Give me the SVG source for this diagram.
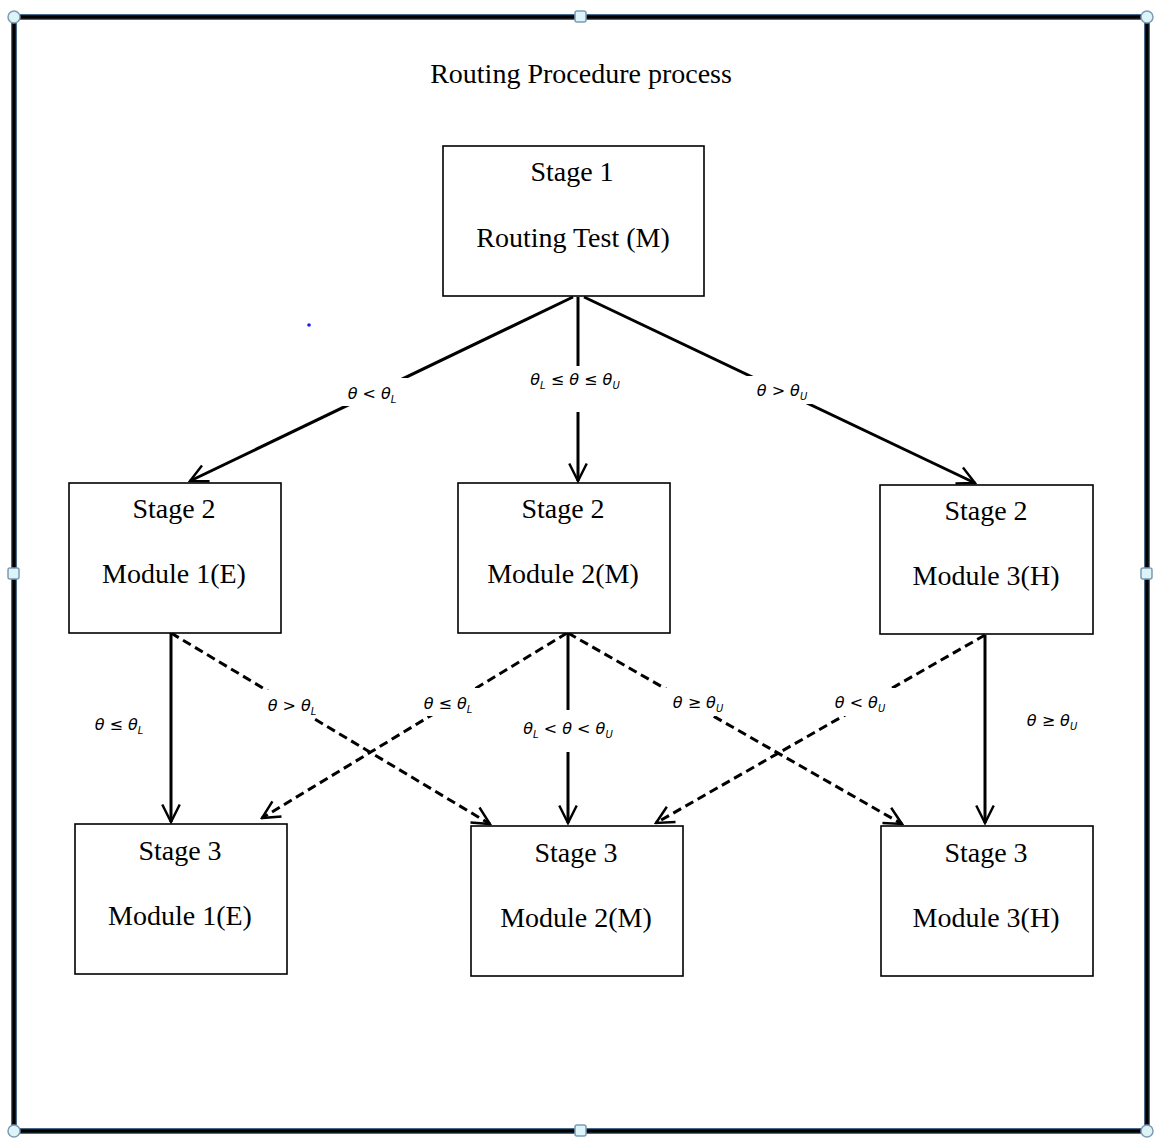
<svg xmlns="http://www.w3.org/2000/svg" width="1154" height="1138" viewBox="0 0 1154 1138">
<style>
.box{fill:#fff;stroke:#000;stroke-width:1.6}
.t{font-family:"Liberation Serif","Times New Roman",serif;font-size:28px;fill:#000;text-anchor:middle}
.lbl{font-family:"DejaVu Sans",sans-serif;font-style:italic;font-size:16px;fill:#000;text-anchor:middle}
.sub{font-size:10px}
.ln{stroke:#000;stroke-width:3;fill:none}
.dash{stroke:#000;stroke-width:3;fill:none;stroke-dasharray:9 5}
.bg{fill:#fff}
.h{fill:#dcf3f8;stroke:#7d9bb5;stroke-width:1.5}
</style>
<defs>
<marker id="ah" viewBox="0 0 12 12" refX="11" refY="6" markerWidth="7" markerHeight="7" markerUnits="strokeWidth" orient="auto">
<path d="M1,1 L11,6 L1,11" fill="none" stroke="#000" stroke-width="1.4"/>
</marker>
</defs>
<rect width="1154" height="1138" fill="#fff"/>
<g id="frame">
<rect x="14" y="17" width="1133" height="1114" fill="none" stroke="#4a6a8a" stroke-width="6"/>
<rect x="14" y="17" width="1133" height="1114" fill="none" stroke="#000" stroke-width="3.5"/>
<circle class="h" cx="14" cy="17" r="6"/>
<circle class="h" cx="1147" cy="17" r="6"/>
<circle class="h" cx="14" cy="1131" r="6"/>
<circle class="h" cx="1147" cy="1131" r="6"/>
<rect class="h" x="575" y="11" width="11" height="11" rx="2"/>
<rect class="h" x="575" y="1125" width="11" height="11" rx="2"/>
<rect class="h" x="8" y="568" width="11" height="11" rx="2"/>
<rect class="h" x="1141" y="568" width="11" height="11" rx="2"/>
</g>
<text class="t" x="581" y="83">Routing Procedure process</text>
<circle cx="309" cy="325" r="1.8" fill="#1a1aff"/>
<g id="connectors">
<line class="ln" x1="573" y1="297" x2="190" y2="481" marker-end="url(#ah)"/>
<line class="ln" x1="578" y1="297" x2="578" y2="481" marker-end="url(#ah)"/>
<line class="ln" x1="584" y1="297" x2="975" y2="483" marker-end="url(#ah)"/>
<line class="ln" x1="171" y1="633" x2="171" y2="822" marker-end="url(#ah)"/>
<line class="dash" x1="171" y1="633" x2="490" y2="824" marker-end="url(#ah)"/>
<line class="dash" x1="567" y1="633" x2="262" y2="818" marker-end="url(#ah)"/>
<line class="ln" x1="568" y1="633" x2="568" y2="823" marker-end="url(#ah)"/>
<line class="dash" x1="568" y1="633" x2="902" y2="824" marker-end="url(#ah)"/>
<line class="dash" x1="985" y1="635" x2="656" y2="823" marker-end="url(#ah)"/>
<line class="ln" x1="985" y1="635" x2="985" y2="823" marker-end="url(#ah)"/>
</g>
<g id="labels">
<rect class="bg" x="336" y="378" width="72" height="28"/>
<text class="lbl" x="372" y="399">θ &lt; θ<tspan class="sub" dy="4">L</tspan></text>
<rect class="bg" x="512" y="366" width="124" height="46"/>
<text class="lbl" x="575" y="385">θ<tspan class="sub" dy="4">L</tspan><tspan dy="-4"> ≤ θ ≤ θ</tspan><tspan class="sub" dy="4">U</tspan></text>
<rect class="bg" x="744" y="376" width="76" height="28"/>
<text class="lbl" x="782" y="396">θ &gt; θ<tspan class="sub" dy="4">U</tspan></text>
<text class="lbl" x="119" y="730">θ ≤ θ<tspan class="sub" dy="4">L</tspan></text>
<rect class="bg" x="256" y="690" width="72" height="28"/>
<text class="lbl" x="292" y="711">θ &gt; θ<tspan class="sub" dy="4">L</tspan></text>
<rect class="bg" x="412" y="688" width="72" height="28"/>
<text class="lbl" x="448" y="709">θ ≤ θ<tspan class="sub" dy="4">L</tspan></text>
<rect class="bg" x="506" y="710" width="124" height="42"/>
<text class="lbl" x="568" y="734">θ<tspan class="sub" dy="4">L</tspan><tspan dy="-4"> &lt; θ &lt; θ</tspan><tspan class="sub" dy="4">U</tspan></text>
<rect class="bg" x="660" y="688" width="76" height="28"/>
<text class="lbl" x="698" y="708">θ ≥ θ<tspan class="sub" dy="4">U</tspan></text>
<rect class="bg" x="822" y="688" width="76" height="28"/>
<text class="lbl" x="860" y="708">θ &lt; θ<tspan class="sub" dy="4">U</tspan></text>
<text class="lbl" x="1052" y="726">θ ≥ θ<tspan class="sub" dy="4">U</tspan></text>
</g>
<g id="stage1">
<rect class="box" x="443" y="146" width="261" height="150"/>
<text class="t" x="572" y="181">Stage 1</text>
<text class="t" x="573" y="247">Routing Test (M)</text>
</g>
<g id="s2m1">
<rect class="box" x="69" y="483" width="212" height="150"/>
<text class="t" x="174" y="518">Stage 2</text>
<text class="t" x="174" y="583">Module 1(E)</text>
</g>
<g id="s2m2">
<rect class="box" x="458" y="483" width="212" height="150"/>
<text class="t" x="563" y="518">Stage 2</text>
<text class="t" x="563" y="583">Module 2(M)</text>
</g>
<g id="s2m3">
<rect class="box" x="880" y="485" width="213" height="149"/>
<text class="t" x="986" y="520">Stage 2</text>
<text class="t" x="986" y="585">Module 3(H)</text>
</g>
<g id="s3m1">
<rect class="box" x="75" y="824" width="212" height="150"/>
<text class="t" x="180" y="860">Stage 3</text>
<text class="t" x="180" y="925">Module 1(E)</text>
</g>
<g id="s3m2">
<rect class="box" x="471" y="826" width="212" height="150"/>
<text class="t" x="576" y="862">Stage 3</text>
<text class="t" x="576" y="927">Module 2(M)</text>
</g>
<g id="s3m3">
<rect class="box" x="881" y="826" width="212" height="150"/>
<text class="t" x="986" y="862">Stage 3</text>
<text class="t" x="986" y="927">Module 3(H)</text>
</g>
</svg>
